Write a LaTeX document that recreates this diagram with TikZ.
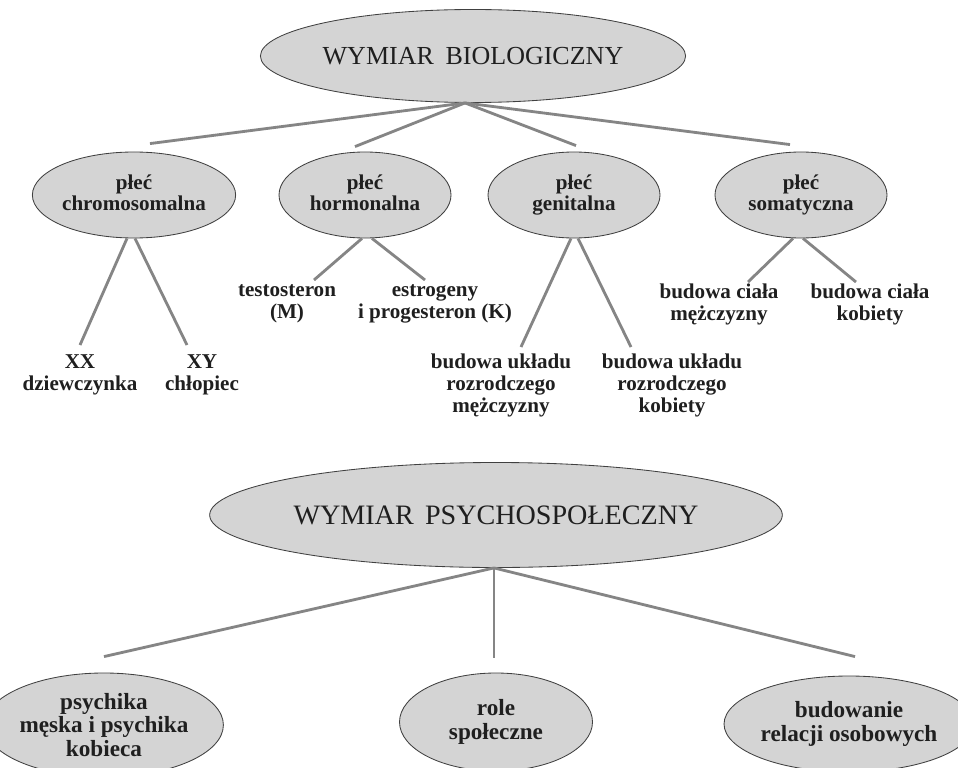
\documentclass[tikz,border=0pt]{standalone}
\usepackage{fontspec}
\setmainfont{Liberation Serif}
\usepackage{tikz}
\usetikzlibrary{shapes.geometric}
\definecolor{ovalfill}{gray}{0.83}
\definecolor{ovaldraw}{gray}{0.25}
\definecolor{branchgray}{gray}{0.52}
\definecolor{inkgray}{gray}{0.12}
\tikzset{
  dimoval/.style={ellipse, draw=ovaldraw, fill=ovalfill, line width=0.6pt, inner sep=0pt, align=center, text=inkgray, font=\fontsize{18.5}{20}\selectfont},
  sexoval/.style={ellipse, draw=ovaldraw, fill=ovalfill, line width=0.6pt, inner sep=0pt, minimum width=43mm, minimum height=21.5mm, align=center, text=inkgray, font=\bfseries\fontsize{15}{15.6}\selectfont},
  roleoval/.style={ellipse, draw=ovaldraw, fill=ovalfill, line width=0.6pt, inner sep=0pt, align=center, text=inkgray, font=\bfseries\fontsize{16.5}{16.6}\selectfont},
  leaftext/.style={anchor=north, inner sep=0pt, align=center, text=inkgray, font=\bfseries\fontsize{15}{15.6}\selectfont},
  branch/.style={draw=branchgray, line width=2pt},
}
\begin{document}
\begin{tikzpicture}[x=0.25mm, y=-0.25mm]
  \useasboundingbox[fill=white] (0,0) rectangle (958,767);

  % Biological dimension
  \node[dimoval, minimum width=94mm, minimum height=23.25mm] (bio) at (473,56) {WYMIAR\hspace{0.45em}BIOLOGICZNY};

  \node[sexoval] (chrom) at (134,195) {płeć\\chromosomalna\vphantom{g}};
  \node[sexoval] (horm)  at (365,195) {płeć\\hormonalna\vphantom{g}};
  \node[sexoval] (genit) at (574,195) {płeć\\genitalna\vphantom{g}};
  \node[sexoval] (soma)  at (801,195) {płeć\\somatyczna\vphantom{g}};

  % Leaves
  \node[leaftext] (xx)    at (80,354)  {XX\\dziewczynka};
  \node[leaftext] (xy)    at (202,354) {XY\\chłopiec};
  \node[leaftext] (testo) at (287,284) {testosteron\\(M)};
  \node[leaftext] (estro) at (435,284) {estrogeny\\i progesteron (K)};
  \node[leaftext] (genm)  at (501,354) {budowa układu\\rozrodczego\\mężczyzny};
  \node[leaftext] (genk)  at (672,354) {budowa układu\\rozrodczego\\kobiety};
  \node[leaftext] (somm)  at (719,284) {budowa ciała\\mężczyzny};
  \node[leaftext] (somk)  at (870,284) {budowa ciała\\kobiety};

  % Psychosocial dimension
  \node[dimoval, minimum width=119.25mm, minimum height=26.25mm, font=\fontsize{20}{22}\selectfont] (psy) at (496,515) {WYMIAR\hspace{0.4em}PSYCHOSPOŁECZNY};

  \node[roleoval, minimum width=49mm, minimum height=26mm]   (psyche) at (104,725) {psychika\\męska i psychika\\kobieca};
  \node[roleoval, minimum width=48.25mm, minimum height=24.5mm] (roles) at (496,722) {role\\społeczne};
  \node[roleoval, minimum width=53.5mm, minimum height=24mm]  (relat) at (849,724) {budowanie\\relacji osobowych};

  % Branches
  \draw[branch] ([xshift=-2mm]bio.south) -- ([xshift=4mm,yshift=2mm]chrom.north);
  \draw[branch] ([xshift=-2mm]bio.south) -- ([xshift=-2.5mm,yshift=1.25mm]horm.north);
  \draw[branch] ([xshift=-2mm]bio.south) -- ([xshift=0.5mm,yshift=1.5mm]genit.north);
  \draw[branch] ([xshift=-2mm]bio.south) -- ([xshift=-2.75mm,yshift=1.75mm]soma.north);

  \draw[branch] ([xshift=-1.75mm]chrom.south) -- ([yshift=2.25mm]xx.north);
  \draw[branch] ([xshift=0.25mm]chrom.south) -- ([xshift=-3.75mm,yshift=2.25mm]xy.north);
  \draw[branch] ([xshift=-0.75mm]horm.south) -- ([xshift=6.75mm,yshift=1mm]testo.north);
  \draw[branch] ([xshift=1.75mm]horm.south) -- ([xshift=-2.5mm,yshift=1mm]estro.north);
  \draw[branch] ([xshift=-0.75mm]genit.south) -- ([xshift=5mm,yshift=1.75mm]genm.north);
  \draw[branch] ([xshift=1mm]genit.south) -- ([xshift=-10.25mm,yshift=1.75mm]genk.north);
  \draw[branch] ([xshift=-2mm]soma.south) -- ([xshift=7.25mm,yshift=0.5mm]somm.north);
  \draw[branch] ([xshift=0.5mm]soma.south) -- ([xshift=-3.5mm,yshift=0.5mm]somk.north);

  \draw[branch] ([xshift=-0.5mm]psy.south) -- ([yshift=4mm]psyche.north);
  \draw[branch, line width=1.3pt] ([xshift=-0.5mm]psy.south) -- ([xshift=-0.5mm,yshift=3.75mm]roles.north);
  \draw[branch] ([xshift=-0.5mm]psy.south) -- ([xshift=1.5mm,yshift=4.75mm]relat.north);
\end{tikzpicture}
\end{document}
